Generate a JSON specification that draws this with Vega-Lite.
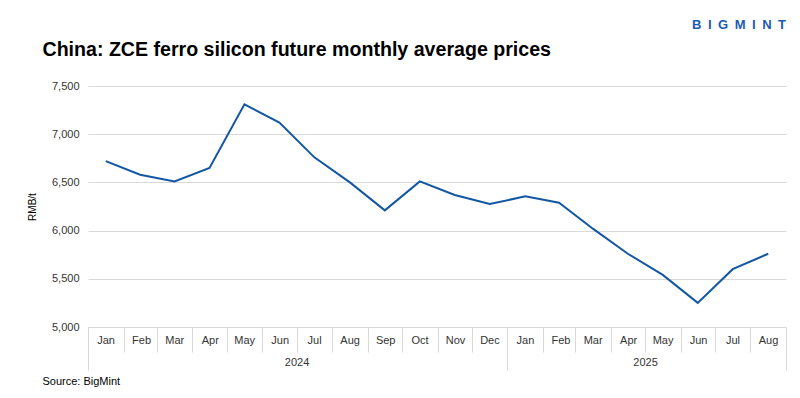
{
  "$schema": "https://vega.github.io/schema/vega-lite/v6.json",
  "width": 698,
  "height": 241,
  "autosize": {"type": "none"},
  "padding": {"left": 88, "top": 86, "right": 14, "bottom": 71},
  "background": "white",
  "title": {
    "text": "B\u2002I\u2002G\u2002M\u2002I\u2002N\u2002T",
    "anchor": "end",
    "frame": "group",
    "offset": -3,
    "baseline": "alphabetic",
    "font": "Liberation Sans",
    "fontSize": 13,
    "fontWeight": "bold",
    "color": "#1a5cb3"
  },
  "config": {"view": {"stroke": null}, "font": "Liberation Sans"},
  "data": {
    "values": [
      {"month": "2024-01-01", "price": 6720},
      {"month": "2024-02-01", "price": 6580},
      {"month": "2024-03-01", "price": 6510},
      {"month": "2024-04-01", "price": 6650},
      {"month": "2024-05-01", "price": 7310},
      {"month": "2024-06-01", "price": 7120},
      {"month": "2024-07-01", "price": 6760},
      {"month": "2024-08-01", "price": 6500},
      {"month": "2024-09-01", "price": 6210},
      {"month": "2024-10-01", "price": 6510},
      {"month": "2024-11-01", "price": 6370},
      {"month": "2024-12-01", "price": 6275},
      {"month": "2025-01-01", "price": 6355},
      {"month": "2025-02-01", "price": 6290},
      {"month": "2025-03-01", "price": 6020},
      {"month": "2025-04-01", "price": 5760},
      {"month": "2025-05-01", "price": 5540},
      {"month": "2025-06-01", "price": 5250},
      {"month": "2025-07-01", "price": 5600},
      {"month": "2025-08-01", "price": 5760}
    ]
  },
  "layer": [
    {
      "mark": {"type": "line", "color": "#1257a4", "strokeWidth": 2},
      "encoding": {
        "x": {
          "field": "month", "type": "temporal", "timeUnit": "utcyearmonth", "bandPosition": 0.5,
          "scale": {"type": "utc", "nice": false, "domain": [{"year": 2024, "month": 1, "date": 1, "utc": true}, {"year": 2025, "month": 9, "date": 1, "utc": true}]},
          "axis": {
            "orient": "bottom",
            "title": null, "tickCount": {"interval": "month", "step": 1}, "ticks": false, "grid": false,
            "domain": true, "domainColor": "#d9d9d9", "domainWidth": 1,
            "labelOffset": 17.5, "labelPadding": 7, "labelOverlap": false, "labelFlush": false, "labelBound": false,
            "labelFontSize": 11, "labelColor": "#333333", "labelAlign": "center",
            "labelExpr": "datum.value >= utc(2025,8,1) ? '' : utcFormat(datum.value, '%b')"
          }
        },
        "y": {
          "field": "price", "type": "quantitative",
          "scale": {"domain": [5000, 7500], "nice": false, "zero": false},
          "axis": {
            "title": "RMB/t", "titleFontSize": 10, "titleFontWeight": "normal", "titleColor": "#000000", "titlePadding": 14,
            "values": [5000, 5500, 6000, 6500, 7000, 7500], "format": ",.0f", "ticks": false, "domain": false,
            "grid": true, "gridColor": "#d9d9d9", "gridWidth": 1,
            "labelPadding": 9, "labelFontSize": 11, "labelColor": "#333333"
          }
        }
      }
    },
    {
      "mark": {"type": "point", "opacity": 0},
      "encoding": {
        "x": {
          "field": "month", "type": "temporal", "timeUnit": "utcyearmonth", "bandPosition": 0.5,
          "scale": {"type": "utc", "nice": false, "domain": [{"year": 2024, "month": 1, "date": 1, "utc": true}, {"year": 2025, "month": 9, "date": 1, "utc": true}]},
          "axis": {
            "orient": "bottom",
            "title": null, "tickCount": {"interval": "month", "step": 1}, "labels": false, "grid": false, "domain": false,
            "ticks": true, "tickSize": 25, "tickColor": "#d9d9d9", "tickWidth": 1
          }
        }
      }
    },
    {
      "mark": {"type": "point", "opacity": 0},
      "encoding": {
        "x": {
          "field": "month", "type": "temporal", "timeUnit": "utcyearmonth", "bandPosition": 0.5,
          "scale": {"type": "utc", "nice": false, "domain": [{"year": 2024, "month": 1, "date": 1, "utc": true}, {"year": 2025, "month": 9, "date": 1, "utc": true}]},
          "axis": {
            "orient": "bottom",
            "title": null, "labels": false, "grid": false, "domain": false,
            "values": [{"year": 2024, "month": 1, "date": 1, "utc": true}, {"year": 2025, "month": 1, "date": 1, "utc": true}, {"year": 2025, "month": 9, "date": 1, "utc": true}],
            "ticks": true, "tickSize": 43, "tickColor": "#d9d9d9", "tickWidth": 1
          }
        }
      }
    },
    {
      "mark": {"type": "point", "opacity": 0},
      "encoding": {
        "x": {
          "field": "month", "type": "temporal", "timeUnit": "utcyearmonth", "bandPosition": 0.5,
          "scale": {"type": "utc", "nice": false, "domain": [{"year": 2024, "month": 1, "date": 1, "utc": true}, {"year": 2025, "month": 9, "date": 1, "utc": true}]},
          "axis": {
            "orient": "bottom",
            "title": "Source: BigMint", "titleX": -46, "titleY": 54, "titleAlign": "left", "titleBaseline": "middle",
            "titleFontSize": 11, "titleFontWeight": "normal", "titleColor": "#000000",
            "values": [{"year": 2024, "month": 7, "date": 1, "utc": true}, {"year": 2025, "month": 5, "date": 1, "utc": true}],
            "ticks": false, "grid": false, "domain": false,
            "labelPadding": 29, "labelFontSize": 11, "labelColor": "#333333", "labelOverlap": false, "labelFlush": false,
            "labelExpr": "utcFormat(datum.value, '%Y')"
          }
        }
      }
    },
    {
      "mark": {"type": "point", "opacity": 0},
      "encoding": {
        "x": {
          "field": "month", "type": "temporal", "timeUnit": "utcyearmonth", "bandPosition": 0.5,
          "scale": {"type": "utc", "nice": false, "domain": [{"year": 2024, "month": 1, "date": 1, "utc": true}, {"year": 2025, "month": 9, "date": 1, "utc": true}]},
          "axis": {
            "orient": "top", "title": "China: ZCE ferro silicon future monthly average prices",
            "titleX": -46, "titleY": -31, "titleAlign": "left", "titleBaseline": "alphabetic",
            "titleFontSize": 19.6, "titleFontWeight": "bold", "titleColor": "#000000",
            "labels": false, "ticks": false, "grid": false, "domain": false
          }
        }
      }
    }
  ],
  "resolve": {"axis": {"x": "independent"}}
}
